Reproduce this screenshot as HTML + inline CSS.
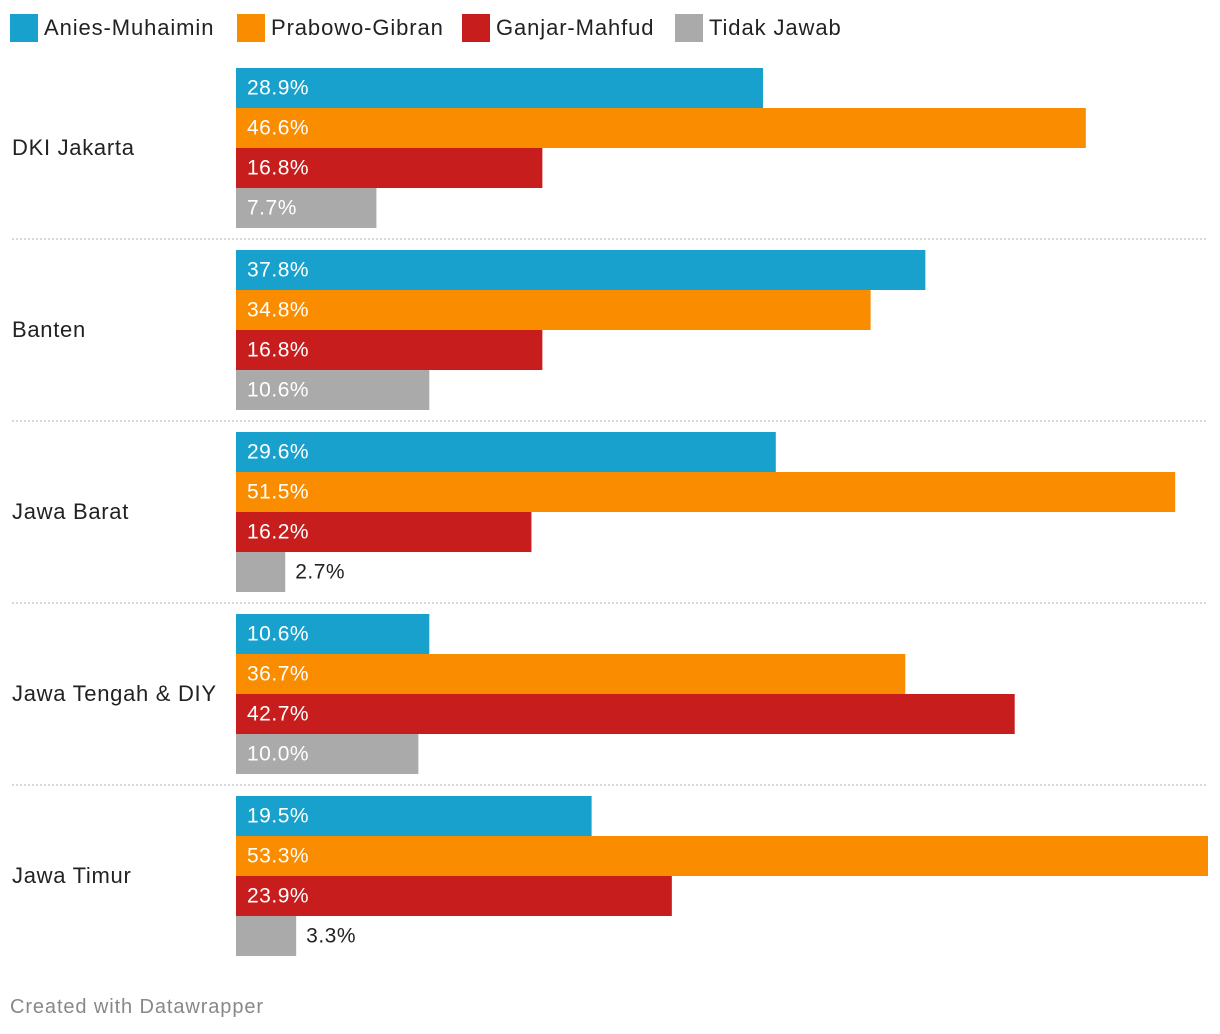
<!DOCTYPE html>
<html><head><meta charset="utf-8"><style>
body{margin:0;width:1220px;height:1034px;background:#fff;font-family:"Liberation Sans",sans-serif;position:relative;overflow:hidden}
.leg{position:absolute;top:14px;height:28px;display:flex;align-items:center;font-size:22px;color:#222;letter-spacing:0.9px}
.sq{width:28px;height:28px;margin-right:6px}
svg{position:absolute;left:0;top:0}
</style></head><body>
<div class="leg" style="left:10px"><div class="sq" style="background:#18a1cd"></div>Anies-Muhaimin</div>
<div class="leg" style="left:237px"><div class="sq" style="background:#fa8c00"></div>Prabowo-Gibran</div>
<div class="leg" style="left:462px"><div class="sq" style="background:#c71e1d"></div>Ganjar-Mahfud</div>
<div class="leg" style="left:675px"><div class="sq" style="background:#aaaaaa"></div>Tidak Jawab</div>
<svg id="chart" width="1220" height="1034"></svg>
<div style="position:absolute;left:10px;top:996px;font-size:20px;color:#888;letter-spacing:0.9px">Created with Datawrapper</div>
<script>
const categories=["DKI Jakarta","Banten","Jawa Barat","Jawa Tengah & DIY","Jawa Timur"];
const anies=[28.9,37.8,29.6,10.6,19.5];
const prabowo=[46.6,34.8,51.5,36.7,53.3];
const ganjar=[16.8,16.8,16.2,42.7,23.9];
const tidak=[7.7,10.6,2.7,10.0,3.3];
const series=[anies,prabowo,ganjar,tidak];
const colors=["#18a1cd","#fa8c00","#c71e1d","#aaaaaa"];
const names=["anies","prabowo","ganjar","tidak-jawab"];
const svg=document.getElementById('chart');
const NS="http://www.w3.org/2000/svg";
const x0=236,xMax=1208,maxV=53.3;
const xs=v=>(v/maxV)*(xMax-x0);
const gy=i=>68+i*182;
function mk(t,a){const e=document.createElementNS(NS,t);for(const k in a)e.setAttribute(k,a[k]);svg.appendChild(e);return e;}
categories.forEach((c,i)=>{
  const y=gy(i);
  const lab=mk('text',{x:12,y:y+81,'dominant-baseline':'middle','font-size':22,fill:'#222','letter-spacing':0.7,'font-family':'Liberation Sans, sans-serif'});
  lab.textContent=c;
  
  
  if(i>0){
    const l=mk('line',{x1:12,x2:1208,y1:y-11,y2:y-11,stroke:'#ccc','stroke-width':1.5,'stroke-dasharray':'2,2'});
    
    
  }
  series.forEach((s,j)=>{
    const v=s[i],w=xs(v),by=y+j*40;
    const r=mk('rect',{x:x0,y:by,width:w,height:40,fill:colors[j]});
    
    
    const inside=w>80;
    const t=mk('text',{x:inside?x0+11:x0+w+10,y:by+21,'dominant-baseline':'middle','font-size':21,'letter-spacing':0.5,fill:inside?'#fff':'#222','font-family':'Liberation Sans, sans-serif'});
    t.textContent=v.toFixed(1)+'%';
    
    
  });
});
</script>
</body></html>
